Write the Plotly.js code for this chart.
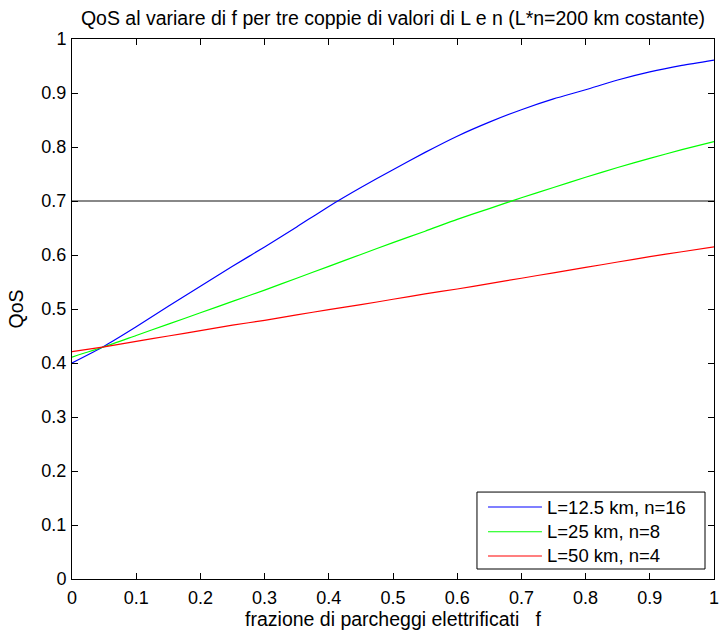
<!DOCTYPE html>
<html>
<head>
<meta charset="utf-8">
<script src="https://cdn.plot.ly/plotly-3.0.1.min.js"></script>
<style>
  html, body { margin: 0; padding: 0; background: #fff; }
  #chart { width: 720px; height: 633px; }
</style>
</head>
<body>
<div id="chart"></div>
<script>
// Fraction of electrified parking spots
const fractionF = [0, 0.05, 0.1, 0.15, 0.2, 0.25, 0.3, 0.35, 0.4, 0.45, 0.5,
                   0.55, 0.6, 0.65, 0.7, 0.75, 0.8, 0.85, 0.9, 0.95, 1];

// QoS for each (L, n) pair, L*n = 200 km
const qosL12n16 = [0.400, 0.431, 0.467, 0.505, 0.542, 0.579, 0.615, 0.652, 0.690, 0.725, 0.758,
                   0.790, 0.820, 0.846, 0.869, 0.889, 0.906, 0.924, 0.939, 0.951, 0.961];
const qosL25n8  = [0.411, 0.430, 0.451, 0.472, 0.493, 0.514, 0.535, 0.557, 0.579, 0.601, 0.623,
                   0.644, 0.666, 0.686, 0.706, 0.725, 0.744, 0.762, 0.779, 0.795, 0.810];
const qosL50n4  = [0.421, 0.430, 0.440, 0.450, 0.460, 0.470, 0.479, 0.489, 0.499, 0.508, 0.518,
                   0.528, 0.537, 0.547, 0.557, 0.567, 0.577, 0.587, 0.597, 0.606, 0.615];

const seriesNames = ['L=12.5 km, n=16', 'L=25 km, n=8', 'L=50 km, n=4'];
const seriesColors = ['#0000ff', '#00ff00', '#ff0000'];

// Target QoS threshold
const qosThreshold = 0.7;
const thresholdX = [0, 1];

const FONT = 'Liberation Sans, Arial, sans-serif';
const TICK_SIZE = 18;
const TEXT_SIZE = 19.5;
const LEGEND_SIZE = 18.5;

const traces = [
  {
    x: thresholdX,
    y: thresholdX.map(() => qosThreshold),
    mode: 'lines',
    line: { color: '#888888', width: 2.2 },
    showlegend: false,
    hoverinfo: 'skip'
  }
];
[qosL12n16, qosL25n8, qosL50n4].forEach((vals, i) => {
  traces.push({
    x: fractionF,
    y: vals,
    mode: 'lines',
    name: seriesNames[i],
    showlegend: false,
    line: { color: seriesColors[i], width: 1.2, shape: 'spline', smoothing: 0.6 }
  });
});

// Boxed legend in the lower-right corner of the axes (paper coordinates)
const legendBox = { x0: 0.6308, x1: 0.986, y0: 0.0185, y1: 0.161 };
const legendRows = [0.1333, 0.0875, 0.0426];
const legendLine = { x0: 0.648, x1: 0.732 };
const legendTextX = 0.737;

const shapes = [{
  type: 'rect', xref: 'paper', yref: 'paper',
  x0: legendBox.x0, x1: legendBox.x1, y0: legendBox.y0, y1: legendBox.y1,
  line: { color: '#000', width: 1 }, fillcolor: '#fff', layer: 'above'
}];
const annotations = [];
seriesNames.forEach((name, i) => {
  shapes.push({
    type: 'line', xref: 'paper', yref: 'paper',
    x0: legendLine.x0, x1: legendLine.x1, y0: legendRows[i], y1: legendRows[i],
    line: { color: seriesColors[i], width: 1.2 }, layer: 'above'
  });
  annotations.push({
    xref: 'paper', yref: 'paper', x: legendTextX, y: legendRows[i],
    xanchor: 'left', yanchor: 'middle', showarrow: false,
    text: name,
    font: { family: FONT, size: LEGEND_SIZE, color: '#000' }
  });
});

const axisCommon = {
  range: [0, 1],
  dtick: 0.1,
  tick0: 0,
  ticks: 'inside',
  ticklen: 6,
  tickwidth: 1,
  tickcolor: '#000',
  showline: true,
  linecolor: '#000',
  linewidth: 1,
  mirror: 'ticks',
  showgrid: false,
  zeroline: false,
  tickfont: { family: FONT, size: TICK_SIZE, color: '#000' }
};

const layout = {
  width: 720,
  height: 633,
  paper_bgcolor: '#fff',
  plot_bgcolor: '#fff',
  margin: { l: 72, r: 6, t: 39, b: 54 },
  title: {
    text: 'QoS al variare di f per tre coppie di valori di L e n (L*n=200 km costante)',
    font: { family: FONT, size: TEXT_SIZE, color: '#000' },
    x: 0.5, xanchor: 'center', xref: 'paper',
    y: 1 - 18 / 633, yref: 'container', yanchor: 'middle'
  },
  xaxis: Object.assign({}, axisCommon, {
    ticklabelstandoff: 2,
    title: {
      text: 'frazione di parcheggi elettrificati\u00a0\u00a0\u00a0f',
      font: { family: FONT, size: TEXT_SIZE, color: '#000' },
      standoff: 1
    }
  }),
  yaxis: Object.assign({}, axisCommon, {
    ticklabelstandoff: 1,
    title: {
      text: 'QoS',
      font: { family: FONT, size: TEXT_SIZE, color: '#000' },
      standoff: 12
    }
  }),
  showlegend: false,
  shapes: shapes,
  annotations: annotations
};

Plotly.newPlot('chart', traces, layout, { staticPlot: true, displayModeBar: false });
</script>
</body>
</html>
